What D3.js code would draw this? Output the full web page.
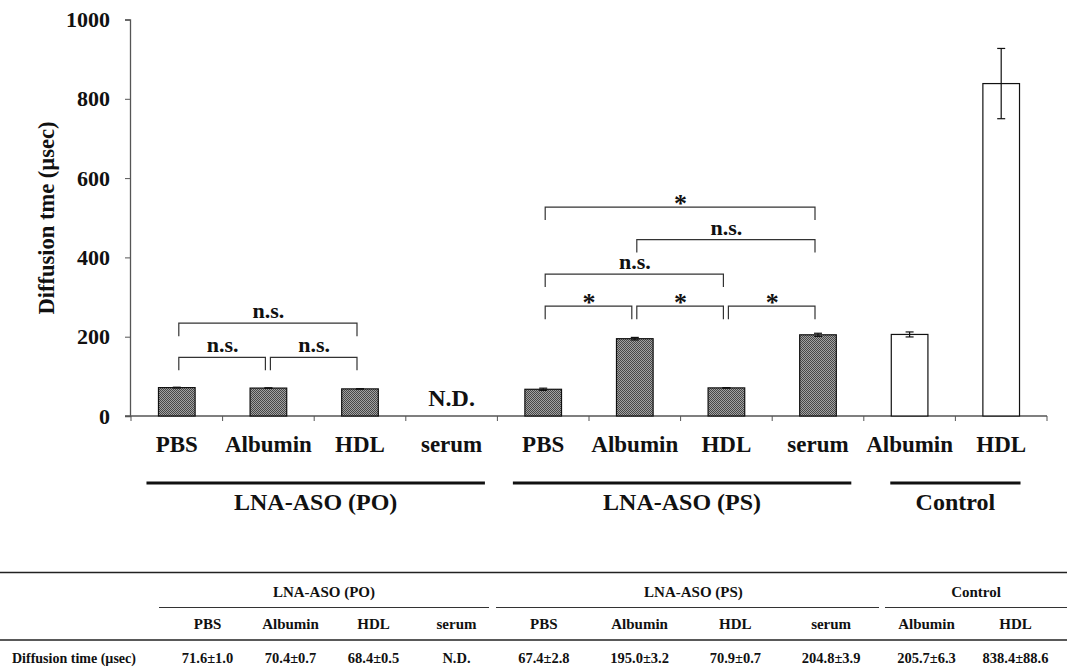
<!DOCTYPE html>
<meta charset="utf-8">
<head>
  <script src="https://d3js.org/d3.v7.min.js"></script>
  <style>
    body { margin: 0; background: #fff; }
    text { font-family: "Liberation Serif", "Times New Roman", serif; font-weight: bold; fill: #111; }
  </style>
</head>
<body>
  <div id="chart"></div>
  <script>

    // chart data
    var categories = ["PBS", "Albumin", "HDL", "serum", "PBS", "Albumin", "HDL", "serum", "Albumin", "HDL"];
    var means = [71.6, 70.4, 68.4, null, 67.4, 195.0, 70.9, 204.8, 205.7, 838.4];
    var sds = [1.0, 0.7, 0.5, null, 2.8, 3.2, 0.7, 3.9, 6.3, 88.6];
    var isControl = [false, false, false, false, false, false, false, false, true, true];

    var groupNames = ["LNA-ASO (PO)", "LNA-ASO (PS)", "Control"];
    var groupFirst = [0, 4, 8];
    var groupLast = [3, 7, 9];

    var yTicks = [0, 200, 400, 600, 800, 1000];

    // significance brackets
    var bracketFrom = [0, 1, 0, 4, 5, 6, 4, 5, 4];
    var bracketTo = [1, 2, 2, 5, 6, 7, 6, 7, 7];
    var bracketLevel = [148, 148, 234, 277, 277, 277, 358, 445, 527];
    var bracketLabel = ["n.s.", "n.s.", "n.s.", "*", "*", "*", "n.s.", "n.s.", "*"];

    var width = 1067, height = 672;

    var svg = d3.select("#chart")
      .append("svg")
      .attr("width", width)
      .attr("height", height);

    svg.append("rect").attr("width", width).attr("height", height).attr("fill", "#fff");

    // halftone fill like the scanned figure
    var pat = svg.append("defs").append("pattern")
      .attr("id", "halftone")
      .attr("width", 2).attr("height", 2)
      .attr("patternUnits", "userSpaceOnUse");
    pat.append("rect").attr("width", 2).attr("height", 2).attr("fill", "#a2a2a2");
    pat.append("rect").attr("width", 1).attr("height", 1).attr("fill", "#474747");
    pat.append("rect").attr("x", 1).attr("y", 1).attr("width", 1).attr("height", 1).attr("fill", "#474747");

    var idx = categories.map(function (d, i) { return i; });

    var x = d3.scaleBand()
      .domain(idx)
      .range([131, 1047])
      .paddingInner(0.6)
      .paddingOuter(0.3);

    var y = d3.scaleLinear()
      .domain([0, 1000])
      .range([416, 19.5]);

    var cx = function (i) { return x(i) + x.bandwidth() / 2; };

    // Y axis
    var yAxis = svg.append("g")
      .attr("transform", "translate(130,0)")
      .call(d3.axisLeft(y).tickValues(yTicks).tickFormat(d3.format("d")).tickSize(5).tickPadding(15));
    yAxis.select(".domain").attr("stroke", "#555").attr("stroke-width", 1.3);
    yAxis.selectAll(".tick line").attr("stroke", "#555");
    yAxis.selectAll("text").style("font-size", "22px");

    // Y axis title
    svg.append("text")
      .attr("transform", "translate(54," + 218 + ") rotate(-90)")
      .attr("text-anchor", "middle")
      .style("font-size", "22.5px")
      .text("Diffusion tme (\u00b5sec)");

    // X axis baseline and boundary ticks
    svg.append("line")
      .attr("x1", 125).attr("x2", x.range()[1])
      .attr("y1", y(0)).attr("y2", y(0))
      .attr("stroke", "#555").attr("stroke-width", 1.3);

    var bounds = idx.map(function (i) { return cx(i) - x.step() / 2; }).concat([cx(idx.length - 1) + x.step() / 2]);
    svg.selectAll(".xtick")
      .data(bounds)
      .enter()
      .append("line")
      .attr("x1", function (d) { return d; }).attr("x2", function (d) { return d; })
      .attr("y1", y(0)).attr("y2", y(0) + 5)
      .attr("stroke", "#555");

    // category labels
    var xAxis = svg.append("g")
      .attr("transform", "translate(0," + y(0) + ")")
      .call(d3.axisBottom(x).tickSize(0).tickPadding(20).tickFormat(function (i) { return categories[i]; }));
    xAxis.select(".domain").remove();
    xAxis.selectAll("text").style("font-size", "23px");

    // bars
    var barData = idx.filter(function (i) { return means[i] !== null; });
    svg.selectAll(".bar")
      .data(barData)
      .enter()
      .append("rect")
      .attr("x", function (i) { return x(i); })
      .attr("y", function (i) { return y(means[i]); })
      .attr("width", x.bandwidth())
      .attr("height", function (i) { return y(0) - y(means[i]); })
      .attr("fill", function (i) { return isControl[i] ? "#fff" : "url(#halftone)"; })
      .attr("stroke", "#111")
      .attr("stroke-width", 1.2);

    // error bars
    var err = svg.selectAll(".err")
      .data(barData)
      .enter()
      .append("g")
      .attr("stroke", "#111")
      .attr("stroke-width", 1.2);
    err.append("line")
      .attr("x1", cx).attr("x2", cx)
      .attr("y1", function (i) { return y(means[i] + sds[i]); })
      .attr("y2", function (i) { return y(means[i] - sds[i]); });
    [1, -1].forEach(function (s) {
      err.append("line")
        .attr("x1", function (i) { return cx(i) - 4; })
        .attr("x2", function (i) { return cx(i) + 4; })
        .attr("y1", function (i) { return y(means[i] + s * sds[i]); })
        .attr("y2", function (i) { return y(means[i] + s * sds[i]); });
    });

    // N.D. label for missing value
    idx.filter(function (i) { return means[i] === null; }).forEach(function (i) {
      svg.append("text")
        .attr("x", cx(i))
        .attr("y", y(0) - 10)
        .attr("text-anchor", "middle")
        .style("font-size", "24px")
        .text("N.D.");
    });

    // brackets
    var bk = svg.selectAll(".bracket")
      .data(bracketFrom.map(function (d, k) { return k; }))
      .enter()
      .append("g");
    bk.append("path")
      .attr("fill", "none")
      .attr("stroke", "#333")
      .attr("stroke-width", 1.2)
      .attr("d", function (k) {
        var x1 = cx(bracketFrom[k]) + 2, x2 = cx(bracketTo[k]) - 3, yy = y(bracketLevel[k]);
        return "M" + x1 + "," + (yy + 13) + "V" + yy + "H" + x2 + "V" + (yy + 13);
      });
    bk.append("text")
      .attr("x", function (k) { return (cx(bracketFrom[k]) + cx(bracketTo[k])) / 2; })
      .attr("y", function (k) { return y(bracketLevel[k]) + (bracketLabel[k] === "*" ? 5 : -5); })
      .attr("text-anchor", "middle")
      .style("font-size", function (k) { return bracketLabel[k] === "*" ? "26px" : "22px"; })
      .text(function (k) { return bracketLabel[k]; });

    // group underlines and names
    var linePad = [[12, 15], [12, 15], [1, 1]];
    groupNames.forEach(function (name, g) {
      var x1 = x(groupFirst[g]) - linePad[g][0];
      var x2 = x(groupLast[g]) + x.bandwidth() + linePad[g][1];
      svg.append("line")
        .attr("x1", x1).attr("x2", x2)
        .attr("y1", 483).attr("y2", 483)
        .attr("stroke", "#111").attr("stroke-width", 3);
      svg.append("text")
        .attr("x", (x1 + x2) / 2)
        .attr("y", 510)
        .attr("text-anchor", "middle")
        .style("font-size", "24px")
        .text(name);
    });

    // table below the chart
    var tableRanges = [[166, 498], [496, 879], [882, 1060]];
    var segRanges = [[159, 489], [496, 879], [885, 1067]];
    var colX = [];
    groupNames.forEach(function (name, g) {
      var cols = d3.range(groupFirst[g], groupLast[g] + 1);
      var t = d3.scaleBand().domain(cols).range(tableRanges[g]);
      cols.forEach(function (i) { colX[i] = t(i) + t.bandwidth() / 2; });
      svg.append("line")
        .attr("x1", segRanges[g][0]).attr("x2", segRanges[g][1])
        .attr("y1", 607.5).attr("y2", 607.5)
        .attr("stroke", "#333").attr("stroke-width", 1);
      svg.append("text")
        .attr("x", (segRanges[g][0] + segRanges[g][1]) / 2 + (g === 1 ? 6 : 0))
        .attr("y", 597)
        .attr("text-anchor", "middle")
        .style("font-size", "15px")
        .text(name);
    });

    [572.5, 640].forEach(function (yy) {
      svg.append("line")
        .attr("x1", 0).attr("x2", width)
        .attr("y1", yy).attr("y2", yy)
        .attr("stroke", "#222").attr("stroke-width", 1.5);
    });

    svg.selectAll(".thead")
      .data(idx)
      .enter()
      .append("text")
      .attr("x", function (i) { return colX[i]; })
      .attr("y", 629)
      .attr("text-anchor", "middle")
      .style("font-size", "15px")
      .text(function (i) { return categories[i]; });

    svg.selectAll(".tval")
      .data(idx)
      .enter()
      .append("text")
      .attr("x", function (i) { return colX[i]; })
      .attr("y", 663)
      .attr("text-anchor", "middle")
      .style("font-size", "14.5px")
      .text(function (i) {
        return means[i] === null ? "N.D." : means[i].toFixed(1) + "\u00b1" + sds[i].toFixed(1);
      });

    svg.append("text")
      .attr("x", 12)
      .attr("y", 663)
      .style("font-size", "14px")
      .text("Diffusion time (\u00b5sec)");

  </script>
</body>
